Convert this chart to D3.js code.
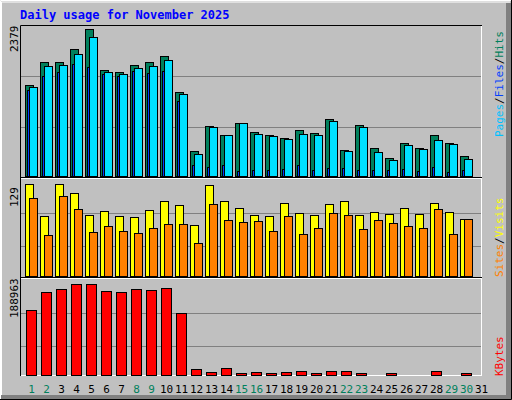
<!DOCTYPE html><html><head><meta charset="utf-8">
<script src="https://cdn.jsdelivr.net/npm/d3@7"></script>
<style>body{margin:0}svg{display:block}</style></head><body><svg id="c" width="512" height="400"></svg>
<script>
const days = d3.range(1,32);
const weekend = [1,2,8,9,15,16,22,23,29,30];
const hits = [1470,1840,1840,2050,2379,1720,1690,1800,1840,1940,1360,400,810,660,860,710,660,620,740,700,920,420,830,450,290,540,450,660,540,320];
const files = [1440,1780,1800,1980,2250,1690,1650,1750,1780,1880,1330,360,800,660,860,680,650,600,680,660,890,400,800,390,260,500,440,580,520,280];
const pages = [1390,1620,1680,1810,1760,1650,1620,1700,1670,1700,1210,180,150,180,80,100,100,110,180,100,130,130,100,100,100,110,80,150,60,100];
const visits = [129,84,129,116,85,91,84,83,92,105,99,71,128,105,95,85,84,103,88,85,101,105,85,90,87,95,87,102,90,80];
const sites = [109,57,112,94,61,70,63,60,67,73,73,46,101,78,76,77,63,84,59,67,88,85,66,78,74,70,67,94,59,80];
const kbytes = [135000,173000,179000,188000,188963,174000,172000,179000,177000,181000,128000,12000,6000,15000,4000,6000,4000,6000,8500,4000,8500,8500,4000,1000,4000,1000,1000,8500,1000,4000];
const maxHits = 2379, maxVisits = 129, maxKB = 188963;

const svg = d3.select("#c");
const mono = "'DejaVu Sans Mono', monospace";
svg.append("rect").attr("width",512).attr("height",400).attr("fill","#C0C0C0");
// bevel
svg.append("path").attr("d","M0.5,399 V0.5 H511").attr("stroke","#fff").attr("fill","none");
svg.append("path").attr("d","M1,2 H510 M1.5,2 V398").attr("stroke","#fff").attr("fill","none");
svg.append("path").attr("d","M1,397.5 H508.5 V3").attr("stroke","#808080").attr("stroke-width",5).attr("fill","none");
svg.append("path").attr("d","M0,399.5 H511.5 V0").attr("stroke","#000").attr("fill","none");

svg.append("text").attr("x",20).attr("y",19).attr("font-family",mono).attr("font-weight","bold")
  .attr("font-size",12).attr("fill","#0000FF").text("Daily usage for November 2025");

// plot frame
svg.append("rect").attr("x",20.5).attr("y",25.5).attr("width",461).attr("height",350).attr("fill","none").attr("stroke","#fff");
svg.append("path").attr("d","M20.5,376 V25.5 H482").attr("stroke","#000").attr("fill","none");
svg.append("line").attr("x1",21).attr("x2",482).attr("y1",177.5).attr("y2",177.5).attr("stroke","#000");
svg.append("line").attr("x1",21).attr("x2",482).attr("y1",178.5).attr("y2",178.5).attr("stroke","#fff");
svg.append("line").attr("x1",21).attr("x2",482).attr("y1",277.5).attr("y2",277.5).attr("stroke","#000");
svg.append("line").attr("x1",21).attr("x2",482).attr("y1",278.5).attr("y2",278.5).attr("stroke","#fff");

const x = d3.scaleBand().domain(days).range([22,487]).paddingInner(0);
const gy = [76,127,213,246,313,346];
gy.forEach(g=>svg.append("line").attr("x1",21).attr("x2",481).attr("y1",g+.5).attr("y2",g+.5).attr("stroke","#808080"));

const yTop = d3.scaleLinear().domain([0,maxHits]).range([176,29]);
const yMid = d3.scaleLinear().domain([0,maxVisits]).range([276,184]);
const yBot = d3.scaleLinear().domain([0,maxKB]).range([375,284]);

function bars(data, y, off, w, fill, stroke){
  svg.append("g").selectAll("rect").data(data).join("rect")
    .attr("x",(d,i)=>x(days[i])+off+.5).attr("y",d=>Math.round(y(d))+.5)
    .attr("width",w).attr("height",d=>Math.max(0,y(0)-Math.round(y(d))))
    .attr("fill",fill).attr("stroke",stroke);
}
bars(hits,yTop,3,8,"#00805C","#000");
bars(pages,yTop,5,2,"#0040FF","#000");
bars(files,yTop,7,8,"#00E0FF","#000");
bars(visits,yMid,3,8,"#FFFF00","#000");
bars(sites,yMid,7,8,"#FF8000","#000");
bars(kbytes,yBot,4,10,"#FF0000","#000");

// y labels
function ylab(t,y){svg.append("text").attr("transform",`translate(18,${y}) rotate(-90)`).attr("font-family",mono).attr("font-size",11).attr("fill","#000").text(t);}
ylab(String(maxHits),52); ylab(String(maxVisits),207); ylab(String(maxKB),318);

// day labels
svg.append("g").selectAll("text").data(days).join("text")
  .attr("x",d=>x(d)+x.bandwidth()/2+2).attr("y",393).attr("text-anchor","middle")
  .attr("font-family",mono).attr("font-size",11)
  .attr("fill",d=>weekend.includes(d)?"#00805C":"#000").text(d=>d);

// right legends
function rlab(parts,yEnd){
  const t=svg.append("text").attr("transform",`translate(503,${yEnd}) rotate(-90)`).attr("font-family",mono).attr("font-size",11);
  parts.forEach(([s,c])=>t.append("tspan").attr("fill",c).text(s));
}
rlab([["Pages","#00C0FF"],["/","#000"],["Files","#0040FF"],["/","#000"],["Hits","#00805C"]],137);
rlab([["Sites","#FF8000"],["/","#000"],["Visits","#FFFF00"]],277);
rlab([["KBytes","#FF0000"]],376);
</script></body></html>
